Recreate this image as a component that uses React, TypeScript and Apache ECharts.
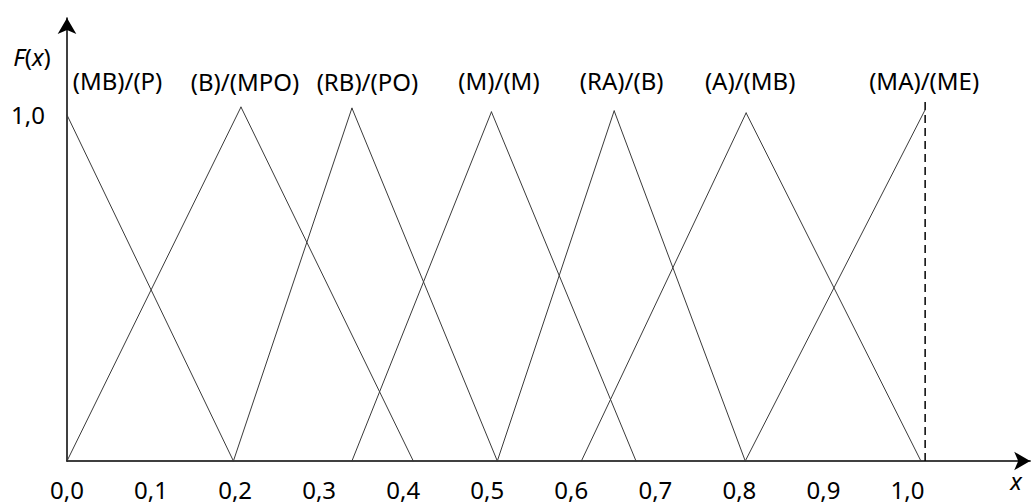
import React, { useEffect, useRef } from 'react';
import * as echarts from 'echarts';

// Membership functions (x, F(x))
const seriesNames = ['(MB)/(P)', '(B)/(MPO)', '(RB)/(PO)', '(M)/(M)', '(RA)/(B)', '(A)/(MB)', '(MA)/(ME)'];
const mbP = [[0, 1.0], [0.198, 0]];
const bMpo = [[0, 0], [0.207, 1.023], [0.412, 0]];
const rbPo = [[0.198, 0], [0.339, 1.02], [0.512, 0]];
const mM = [[0.339, 0], [0.505, 1.009], [0.677, 0]];
const raB = [[0.512, 0], [0.651, 1.012], [0.807, 0]];
const aMb = [[0.612, 0], [0.808, 1.006], [1.016, 0]];
const maMe = [[0.807, 0], [1.021, 1.015]];
const dashedLine = [[1.021, 0], [1.021, 1.049]];

// Tick labels
const xTickValues = [0, 0.1, 0.2, 0.3, 0.4, 0.5, 0.6, 0.7, 0.8, 0.9, 1.0];
const yTickValues = [1.0];

// Layout-only: label offsets from each peak (px)
const labelOffsets = [[50.5, -34], [4, -26], [15.5, -27], [7.5, -31], [7.5, -30], [4, -32], [-1, -29]];

const FONT = 'Noto Sans';
const LINE_COLOR = '#3a3a3a';

export default function App() {
  const ref = useRef<HTMLDivElement>(null);
  useEffect(() => {
    document.body.style.margin = '0';
    const chart = echarts.init(ref.current!, null, { renderer: 'svg' });
    const triangles = [mbP, bMpo, rbPo, mM, raB, aMb, maMe];
    const fmt = (v: number) => v.toFixed(1).replace('.', ',');

    const series: any[] = triangles.map((pts, i) => {
      let peak = 0;
      pts.forEach((p, j) => { if (p[1] > pts[peak][1]) peak = j; });
      return {
        type: 'line',
        name: seriesNames[i],
        data: pts.map((p, j) => ({
          value: p,
          label: {
            show: j === peak,
            position: 'inside',
            offset: labelOffsets[i],
            formatter: seriesNames[i],
            fontFamily: FONT,
            fontSize: 24,
            color: '#000',
          },
        })),
        symbol: 'circle',
        symbolSize: 1,
        showSymbol: true,
        itemStyle: { color: LINE_COLOR },
        lineStyle: { color: LINE_COLOR, width: 1 },
        silent: true,
        emphasis: { disabled: true },
        z: 2,
      };
    });
    series.push({
      type: 'line',
      name: 'dashed',
      data: dashedLine,
      symbol: 'none',
      lineStyle: { color: '#000', width: 1.5, type: [8, 5] },
      silent: true,
      z: 2,
    });

    chart.setOption({
      animation: false,
      grid: { left: 67, right: 2.8, top: 18.1, bottom: 43, containLabel: false },
      xAxis: {
        type: 'value',
        min: 0,
        max: 1.146,
        interval: 0.1,
        splitLine: { show: false },
        axisTick: { show: false },
        axisLine: {
          show: true,
          symbol: ['none', 'arrow'],
          symbolSize: [14, 16],
          lineStyle: { color: '#000', width: 1.5 },
        },
        axisLabel: {
          customValues: xTickValues,
          formatter: fmt,
          fontFamily: FONT,
          fontSize: 24,
          color: '#000',
          margin: 16,
        },
      },
      yAxis: {
        type: 'value',
        min: 0,
        max: 1.28,
        interval: 1,
        splitLine: { show: false },
        axisTick: { show: false },
        axisLine: {
          show: true,
          symbol: ['none', 'arrow'],
          symbolSize: [14, 16],
          lineStyle: { color: '#000', width: 1.5 },
        },
        axisLabel: {
          customValues: yTickValues,
          formatter: fmt,
          fontFamily: FONT,
          fontSize: 24,
          color: '#000',
          margin: 22,
        },
      },
      graphic: [
        {
          type: 'text',
          x: 32,
          y: 56,
          style: {
            text: '{i|F}({i|x})',
            rich: { i: { fontStyle: 'italic', fontFamily: FONT, fontSize: 24, fill: '#000' } },
            fontFamily: FONT,
            fontSize: 24,
            fill: '#000',
            align: 'center',
            verticalAlign: 'middle',
          },
        },
        {
          type: 'text',
          x: 1016,
          y: 480,
          style: {
            text: 'x',
            fontFamily: FONT,
            fontStyle: 'italic',
            fontSize: 24,
            fill: '#000',
            align: 'center',
            verticalAlign: 'middle',
          },
        },
      ],
      series,
    });
    return () => chart.dispose();
  }, []);
  return <div ref={ref} style={{ width: 1033, height: 504 }} />;
}
